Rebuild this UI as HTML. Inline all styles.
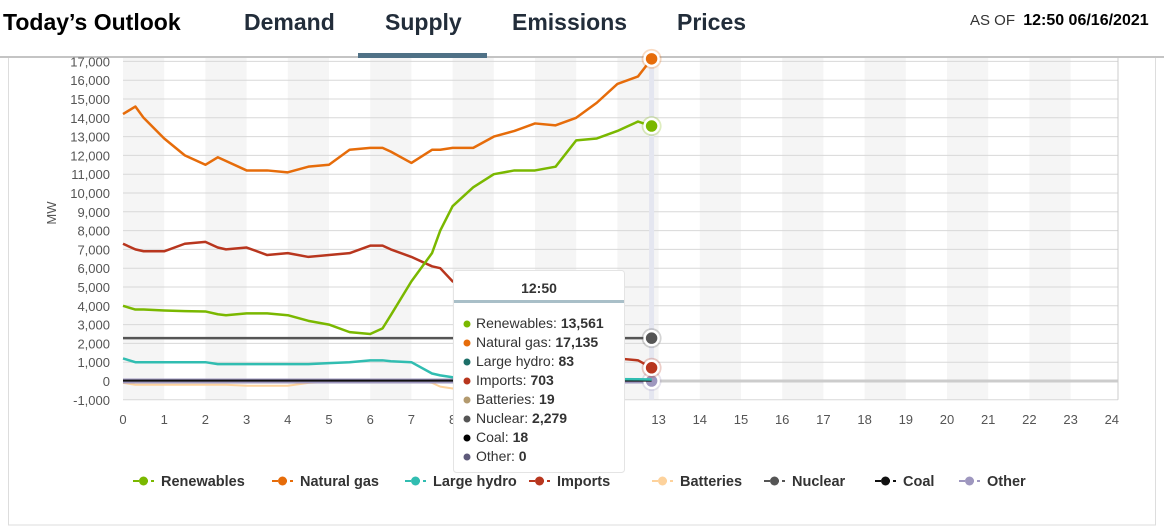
<!DOCTYPE html>
<html><head><meta charset="utf-8"><style>
body{margin:0;width:1164px;height:527px;background:#fff;font-family:"Liberation Sans",Arial,sans-serif;overflow:hidden;position:relative}
.t{position:absolute;font-weight:bold;font-size:23px;color:#222d3a}
</style></head><body>
<div class="t" style="left:3px;top:9px;color:#000">Today’s Outlook</div>
<div class="t" style="left:244px;top:9px">Demand</div>
<div class="t" style="left:385px;top:9px">Supply</div>
<div class="t" style="left:512px;top:9px">Emissions</div>
<div class="t" style="left:677px;top:9px">Prices</div>
<div style="position:absolute;left:970px;top:12px;font-size:15px;color:#333">AS OF <b style="color:#000;font-size:16px;margin-left:4px">12:50 06/16/2021</b></div>
<svg id="c" width="1164" height="527" style="position:absolute;left:0;top:0"></svg>
<script>
const hours=[0,0.3,0.5,1,1.5,2,2.3,2.5,3,3.5,4,4.5,5,5.5,6,6.3,6.5,7,7.5,7.7,8,8.5,9,9.5,10,10.5,11,11.5,12,12.5,12.83];
const renewables=[4.0,3.8,3.8,3.75,3.72,3.7,3.55,3.5,3.6,3.6,3.5,3.2,3.0,2.6,2.5,2.8,3.5,5.3,6.8,8.0,9.3,10.3,11.0,11.2,11.2,11.4,12.8,12.9,13.3,13.8,13.561];
const naturalGas=[14.2,14.6,14.0,12.9,12.0,11.5,11.9,11.7,11.2,11.2,11.1,11.4,11.5,12.3,12.4,12.4,12.2,11.6,12.3,12.3,12.4,12.4,13.0,13.3,13.7,13.6,14.0,14.8,15.8,16.2,17.135];
const largeHydro=[1.2,1.0,1.0,1.0,1.0,1.0,0.9,0.9,0.9,0.9,0.9,0.9,0.95,1.0,1.1,1.1,1.05,1.0,0.4,0.3,0.2,0.15,0.1,0.1,0.1,0.1,0.1,0.1,0.1,0.09,0.083];
const imports=[7.3,7.0,6.9,6.9,7.3,7.4,7.1,7.0,7.1,6.7,6.8,6.6,6.7,6.8,7.2,7.2,7.0,6.6,6.1,6.0,5.3,4.8,4.2,3.6,3.0,2.4,1.8,1.4,1.2,1.1,0.703];
const batteries=[-0.1,-0.2,-0.2,-0.2,-0.2,-0.2,-0.2,-0.2,-0.25,-0.25,-0.25,-0.1,-0.05,0,0,0,0,0.05,-0.1,-0.3,-0.4,0.1,0.1,0.1,0.1,0.05,0.05,0.05,0.05,0.03,0.019];
const nuclear=hours.map(()=>2.279);
const coal=hours.map(()=>0.018);
const other=hours.map(()=>0);
const xTicks=[0,1,2,3,4,5,6,7,8,9,10,11,12,13,14,15,16,17,18,19,20,21,22,23,24];
const yTicks=[-1,0,1,2,3,4,5,6,7,8,9,10,11,12,13,14,15,16,17];
const X=h=>123+h*41.2, Y=v=>381-v*18.8;
const S=document.getElementById('c'),NS='http://www.w3.org/2000/svg';
function el(t,a,p){const e=document.createElementNS(NS,t);for(const k in a)e.setAttribute(k,a[k]);(p||S).appendChild(e);return e;}
let e=el('rect',{x:8.5,y:57,width:1147,height:468,fill:'none',stroke:'#ddd'});


el('line',{x1:0,x2:1164,y1:57,y2:57,stroke:'#c4c4c4','stroke-width':2});
e=el('rect',{x:358,y:53,width:129,height:5,fill:'#4f7186'});


for(let h=0;h<24;h+=2){e=el('rect',{x:X(h),y:58,width:41.2,height:Y(-1)-58,fill:'#f5f5f5'});

}
yTicks.forEach(v=>{el('line',{x1:123,x2:1118,y1:Y(v),y2:Y(v),stroke:'#d8d8d8'});
e=el('text',{x:110,y:Y(v)+5,'text-anchor':'end','font-size':13,fill:'#555'});e.textContent=v===0?'0':(v*1000).toLocaleString('en-US');

});
el('line',{x1:1118,x2:1118,y1:58,y2:Y(-1),stroke:'#ccc'});
xTicks.forEach(h=>{e=el('text',{x:X(h),y:424,'text-anchor':'middle','font-size':13,fill:'#555'});e.textContent=h;

});
e=el('text',{x:56,y:213,'text-anchor':'middle','font-size':13,fill:'#555',transform:'rotate(-90 56 213)'});e.textContent='MW';


el('line',{x1:X(12.83),x2:X(12.83),y1:58,y2:Y(-1),stroke:'#e4e6f0','stroke-width':5});
el('line',{x1:123,x2:1118,y1:Y(0),y2:Y(0),stroke:'#ccc','stroke-width':3});
const series=[['batteries',batteries,'#fdd29c',2],['other',other,'#9e97bf',5],['coal',coal,'#111',2],['nuclear',nuclear,'#555',2.5],['large-hydro',largeHydro,'#31bdb1',2.5],['imports',imports,'#b8361e',2.5],['renewables',renewables,'#7ab800',2.5],['natural-gas',naturalGas,'#e66c0a',2.5]];
series.forEach(([n,d,c,w])=>{
 e=el('polyline',{points:d.map((v,i)=>X(hours[i])+','+Y(v)).join(' '),fill:'none',stroke:c,'stroke-width':w,'stroke-linejoin':'round'});
 
 
 const last=d.length-1;
 if(n!=='batteries'&&n!=='coal'&&n!=='large-hydro'){
 el('circle',{cx:X(hours[last]),cy:Y(d[last]),r:10,fill:c,opacity:0.25});
 el('circle',{cx:X(hours[last]),cy:Y(d[last]),r:7,fill:c,stroke:'#fff','stroke-width':2.5});}
});
const g=el('g',{});


el('rect',{x:453.5,y:270.5,width:171,height:202,rx:3,fill:'#fff',stroke:'#e4e4e4'},g);
let t=el('text',{x:539,y:293,'text-anchor':'middle','font-size':14,'font-weight':'bold',fill:'#333'},g);t.textContent='12:50';
el('rect',{x:454,y:300,width:170,height:3,fill:'#a9bfc8'},g);
const tipNames=['Renewables','Natural gas','Large hydro','Imports','Batteries','Nuclear','Coal','Other'];
const tipVals=['13,561','17,135','83','703','19','2,279','18','0'];
const tipCols=['#7ab800','#e66c0a','#1d6f68','#b8361e','#b39a6e','#555','#000','#5e5a7a'];
tipNames.forEach((n,i)=>{const y=328+i*19;el('circle',{cx:467,cy:y-4,r:3.5,fill:tipCols[i]},g);
 t=el('text',{x:476,y:y,'font-size':14,fill:'#333'},g);t.innerHTML=n+': <tspan font-weight="bold">'+tipVals[i]+'</tspan>';
 
 });
const legNames=['Renewables','Natural gas','Large hydro','Imports','Batteries','Nuclear','Coal','Other'];
const legCols=['#7ab800','#e66c0a','#31bdb1','#b8361e','#fdd29c','#555','#111','#9e97bf'];
const legX=[133,272,405,529,652,764,875,959];
legNames.forEach((n,i)=>{const lg=el('g',{});
 
 
 el('line',{x1:legX[i],x2:legX[i]+21,y1:481,y2:481,stroke:legCols[i],'stroke-width':2,'stroke-dasharray':'6,3'},lg);
 el('circle',{cx:legX[i]+10.5,cy:481,r:4.5,fill:legCols[i]},lg);
 t=el('text',{x:legX[i]+28,y:486,'font-size':14.5,'font-weight':'bold',fill:'#333'},lg);t.textContent=n;});
</script>
</body></html>
